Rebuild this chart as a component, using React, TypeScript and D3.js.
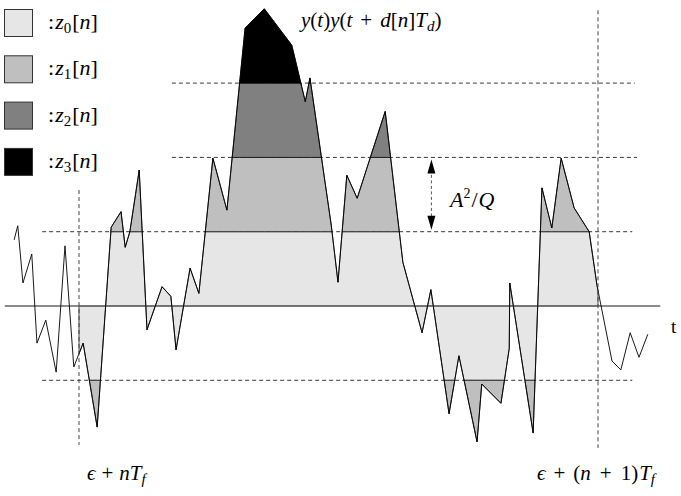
import React from 'react';
import * as d3 from 'd3';

const W = 681;
const H = 496;

// signal y(t)y(t+d[n]T_d): time in units of T_f/100, value in units of A^2/Q
const sigT = [-12.5, -11.8, -10.8, -9.1, -8.1, -6.4, -4.4, -2.7, -1.0, 0.8, 3.5, 6.2, 8.1, 8.9, 9.8, 11.6, 13.1, 16.0, 17.7, 18.7, 21.4, 23.1, 25.8, 28.5, 32.0, 35.7, 41.0, 43.6, 44.5, 48.6, 49.9, 51.6, 53.6, 59.0, 62.4, 66.1, 67.8, 71.3, 73.2, 76.7, 77.6, 81.3, 82.9, 83.0, 87.5, 89.2, 91.1, 92.9, 95.4, 98.3, 99.8, 102.7, 104.4, 106.2, 107.9, 109.6];
const sigV = [0.89, 1.08, 0.31, 0.70, -0.50, -0.19, -0.89, 0.81, -0.82, -0.50, -1.63, 1.06, 1.27, 0.79, 1.00, 1.83, -0.32, 0.26, 0.13, -0.59, 0.51, 0.17, 1.99, 1.29, 3.74, 4.00, 3.51, 2.75, 3.07, 1.09, 0.32, 1.76, 1.45, 2.62, 0.59, -0.36, 0.22, -1.45, -0.67, -1.83, -1.05, -1.31, -0.57, 0.31, -1.71, 1.59, 1.05, 1.99, 1.32, 1.00, 0.28, -0.74, -0.86, -0.36, -0.69, -0.38];

// frame [eps + nTf, eps + (n+1)Tf]
const frameT = [0, 100];

// thresholds (dashed lines) and their extents
const dashV = [1, -1, 2, 3];
const dashT0 = [-7.1, -7.1, 17.9, 17.9];
const dashT1 = [106.6, 106.6, 107.5, 107.1];

// bands: [lo, hi] and colour index
const bandLo = [0, 1, 2, 3, -1, -2];
const bandHi = [1, 2, 3, 6, 0, -1];
const bandC = [0, 1, 2, 3, 0, 1];
const zColors = ['#e6e6e6', '#bfbfbf', '#808080', '#000000'];
const zIdx = ['0', '1', '2', '3'];

const x = d3.scaleLinear().domain([0, 100]).range([79, 598]);
const y = d3.scaleLinear().domain([0, 1]).range([306, 231.7]);

type P = { t: number; v: number };

function densify(ts: number[], vs: number[], cv: number[], ct: number[]): P[] {
  const out: P[] = [];
  for (let i = 0; i < ts.length - 1; i++) {
    const t0 = ts[i], v0 = vs[i], t1 = ts[i + 1], v1 = vs[i + 1];
    out.push({ t: t0, v: v0 });
    const ps: number[] = [];
    cv.forEach((L) => { if ((v0 - L) * (v1 - L) < 0) ps.push((L - v0) / (v1 - v0)); });
    ct.forEach((T) => { if ((t0 - T) * (t1 - T) < 0) ps.push((T - t0) / (t1 - t0)); });
    ps.sort((a, b) => a - b).forEach((p) => out.push({ t: t0 + p * (t1 - t0), v: v0 + p * (v1 - v0) }));
  }
  out.push({ t: ts[ts.length - 1], v: vs[vs.length - 1] });
  return out;
}

const dense = densify(sigT, sigV, [-2, -1, 0, 1, 2, 3], frameT).filter(
  (p) => p.t >= frameT[0] - 1e-9 && p.t <= frameT[1] + 1e-9
);

const serif = "'Liberation Serif', 'DejaVu Serif', serif";

export default function App() {
  const eps = 1e-9;
  const bands = bandLo.map((lo, i) => {
    const hi = bandHi[i];
    const pos = lo >= 0;
    const gen = d3
      .area<P>()
      .defined((p) => (pos ? p.v >= lo - eps : p.v <= hi + eps))
      .x((p) => x(p.t))
      .y0(y(pos ? lo : hi))
      .y1((p) => y(pos ? Math.min(p.v, hi) : Math.max(p.v, lo)));
    return <path key={i} d={gen(dense) || ''} fill={zColors[bandC[i]]} stroke="#000" strokeWidth={0.7} strokeLinejoin="round" />;
  });
  const line = d3.line<number>().x((d, i) => x(sigT[i])).y((d) => y(d));
  const arrowT = 67.9;
  const ax = x(arrowT);
  const yTop = y(2);
  const yBot = y(1);
  return (
    <svg width={W} height={H} style={{ position: 'absolute', left: 0, top: 0, background: '#fff' }} fontFamily={serif}>
      {dashV.map((v, i) => (
        <line key={i} x1={x(dashT0[i])} x2={x(dashT1[i])} y1={y(v)} y2={y(v)} stroke="#222" strokeWidth={0.9} strokeDasharray="4,3" />
      ))}
      {bands}
      <line x1={x(-14.3)} x2={x(112)} y1={y(0)} y2={y(0)} stroke="#666" strokeWidth={1.3} />
      <path d={line(sigV) || ''} fill="none" stroke="#000" strokeWidth={0.9} strokeLinejoin="miter" />
      <line x1={x(0)} x2={x(0)} y1={y(1.56)} y2={y(-1.87)} stroke="#444" strokeWidth={1} strokeDasharray="4,3" />
      <line x1={x(100)} x2={x(100)} y1={y(3.98)} y2={y(-1.91)} stroke="#444" strokeWidth={1} strokeDasharray="4,3" />
      <line x1={ax} x2={ax} y1={yTop + 12} y2={yBot - 12} stroke="#555" strokeWidth={1} strokeDasharray="3,2.5" />
      <path d={`M${ax},${yTop + 2}L${ax - 4},${yTop + 16}L${ax + 4},${yTop + 16}Z`} fill="#000" />
      <path d={`M${ax},${yBot - 2}L${ax - 4},${yBot - 16}L${ax + 4},${yBot - 16}Z`} fill="#000" />

      {zColors.map((c, i) => (
        <g key={i}>
          <rect x={4.5} y={9.5 + i * 46.3} width={28} height={27} fill={c} stroke="#333" strokeWidth={1} />
          <text x={48} y={29 + i * 46.3} fontSize={22}>
            <tspan>:</tspan>
            <tspan fontStyle="italic" dx={1}>z</tspan>
            <tspan fontSize={15} dy={4}>{zIdx[i]}</tspan>
            <tspan dy={-4} dx={1}>[</tspan>
            <tspan fontStyle="italic">n</tspan>
            <tspan>]</tspan>
          </text>
        </g>
      ))}

      <text x={301} y={27} fontSize={21}>
        <tspan fontStyle="italic">y</tspan>(<tspan fontStyle="italic">t</tspan>)<tspan fontStyle="italic">y</tspan>(<tspan fontStyle="italic">t</tspan>
        <tspan dx={8}>+</tspan>
        <tspan fontStyle="italic" dx={8}>d</tspan>[<tspan fontStyle="italic">n</tspan>]<tspan fontStyle="italic">T</tspan>
        <tspan fontStyle="italic" fontSize={15} dy={4}>d</tspan>
        <tspan dy={-4}>)</tspan>
      </text>

      <text x={450} y={207} fontSize={22}>
        <tspan fontStyle="italic">A</tspan>
        <tspan fontSize={14} dy={-9}>2</tspan>
        <tspan dy={9} dx={1}>/</tspan>
        <tspan fontStyle="italic" dx={1}>Q</tspan>
      </text>

      <text x={671} y={333} fontSize={19}>t</text>

      <text x={87} y={480} fontSize={21}>
        <tspan fontStyle="italic">ϵ</tspan>
        <tspan dx={6}>+</tspan>
        <tspan fontStyle="italic" dx={6}>nT</tspan>
        <tspan fontStyle="italic" fontSize={15} dy={4}>f</tspan>
      </text>
      <text x={537} y={480} fontSize={21}>
        <tspan fontStyle="italic">ϵ</tspan>
        <tspan dx={8}>+</tspan>
        <tspan dx={8}>(</tspan>
        <tspan fontStyle="italic">n</tspan>
        <tspan dx={9}>+</tspan>
        <tspan dx={9}>1)</tspan>
        <tspan fontStyle="italic" dx={1}>T</tspan>
        <tspan fontStyle="italic" fontSize={15} dy={4}>f</tspan>
      </text>
    </svg>
  );
}
